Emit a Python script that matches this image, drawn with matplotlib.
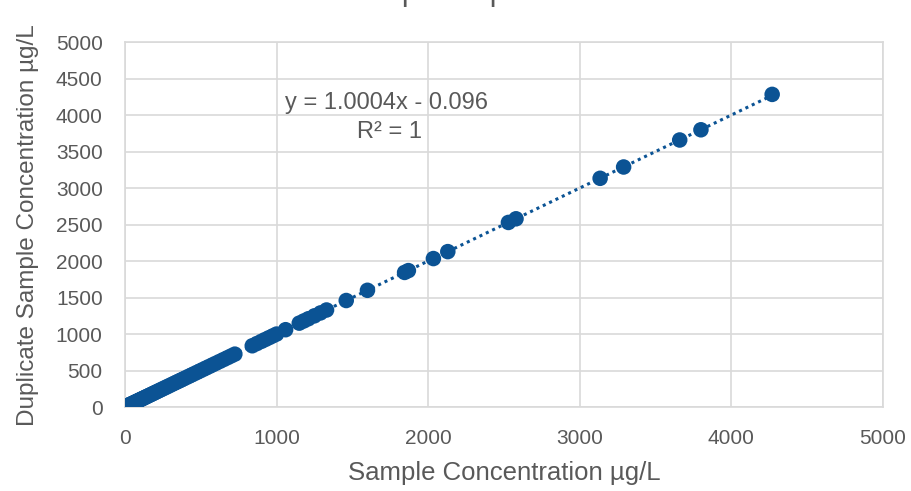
import matplotlib.pyplot as plt

plt.rcParams['font.family'] = ['Liberation Sans', 'DejaVu Sans']

# sample concentration (x) and duplicate concentration (y), ug/L
sample_conc = [1, 3, 5, 8, 10, 13, 16, 20, 24, 28, 32, 37, 42, 47, 52, 58, 64, 70, 76, 83,
               90, 97, 105, 112, 120, 128, 137, 146, 155, 165, 175, 185, 196, 207, 218, 230,
               242, 255, 268, 281, 295, 310, 325, 340, 356, 372, 388, 405, 422, 440, 458,
               476, 495, 515, 535, 556, 578, 600, 625, 650, 675, 700, 725,
               840, 870, 900, 925, 950, 975, 1000, 1060, 1150, 1180, 1210, 1250, 1290,
               1330, 1460, 1600, 1845, 1870, 2035, 2130, 2530, 2580, 3135, 3290, 3660,
               3800, 4270]
duplicate_conc = [1, 3, 5, 8, 10, 13, 16, 20, 24, 28, 32, 37, 42, 47, 52, 58, 64, 70, 76, 83,
                  90, 97, 105, 112, 120, 128, 137, 146, 155, 165, 175, 185, 196, 207, 218, 230,
                  242, 255, 268, 281, 295, 310, 325, 340, 356, 372, 388, 405, 422, 440, 458,
                  476, 495, 515, 535, 556, 578, 600, 625, 650, 675, 700, 725,
                  840, 870, 900, 925, 950, 975, 1000, 1060, 1150, 1180, 1210, 1250, 1290,
                  1330, 1460, 1600, 1845, 1870, 2035, 2130, 2530, 2580, 3135, 3290, 3660,
                  3800, 4285]

# fitted trendline endpoints
trend_x = [0, 4270]
trend_y = [-0.096, 4271.6]

blue = '#0B5394'
grey_text = '#595959'

fig = plt.figure(figsize=(9.12, 4.91), dpi=100)
ax = fig.add_axes([0.137, 0.171, 0.831, 0.743])

ax.plot(trend_x, trend_y, color=blue, linestyle=(0, (1, 1.3)), linewidth=2.2, zorder=2)
ax.scatter(sample_conc, duplicate_conc, s=125, color=blue, edgecolors='none', zorder=3)

ax.set_xlim(0, 5000)
ax.set_ylim(0, 5000)
ax.set_xticks(range(0, 5001, 1000))
ax.set_yticks(range(0, 5001, 500))
ax.grid(True, color='#D9D9D9', linewidth=1.2)
ax.set_axisbelow(True)
for s in ax.spines.values():
    s.set_color('#D9D9D9')
    s.set_linewidth(1.2)
ax.tick_params(length=0, labelsize=15, labelcolor=grey_text)
ax.tick_params(axis='y', pad=16)
ax.tick_params(axis='x', pad=16)

ax.set_xlabel('Sample Concentration µg/L', fontsize=18.5, color=grey_text, labelpad=9)
ax.set_ylabel('Duplicate Sample Concentration µg/L', fontsize=17.5, color=grey_text, labelpad=12)

ax.text(1055, 4164, 'y = 1.0004x - 0.096', fontsize=17, color=grey_text, ha='left', va='center')
ax.text(1530, 3767, 'R² = 1', fontsize=17, color=grey_text, ha='left', va='center')

# title sits mostly above the visible canvas
fig.text(0.5, 0.999, 'ICP-MS Sample Duplicate Results', fontsize=22, color=grey_text,
         ha='center', va='baseline')

fig.savefig('out.png', dpi=100)
